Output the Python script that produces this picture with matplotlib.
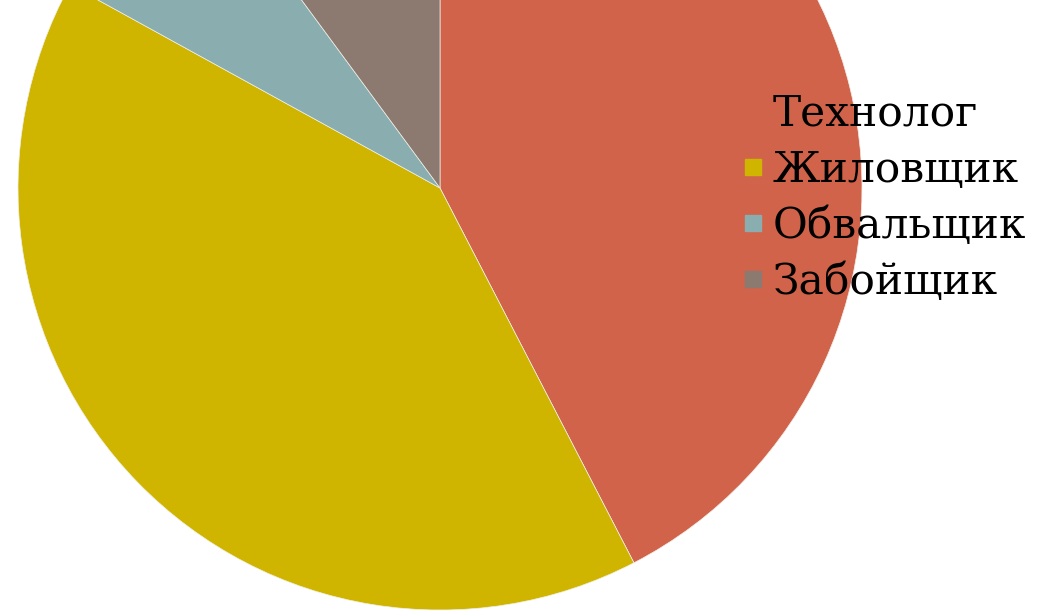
import matplotlib
matplotlib.use("Agg")
import matplotlib.pyplot as plt
from matplotlib.lines import Line2D

categories = ["Технолог", "Жиловщик", "Обвальщик", "Забойщик"]
values = [42.4, 40.6, 6.9, 10.1]
colors = ["#D0634A", "#CFB400", "#8AAEB0", "#8C7A70"]

W, H = 1046, 613
fig = plt.figure(figsize=(W / 100, H / 100), dpi=100)
ax = fig.add_axes([0, 0, 1, 1])
ax.set_xlim(0, W)
ax.set_ylim(0, H)
ax.set_aspect("equal")
ax.axis("off")

ax.pie(values, colors=colors, startangle=90, counterclock=False,
       center=(440, H - 188), radius=422,
       wedgeprops=dict(linewidth=0.5, edgecolor="#f0f0e8"))
ax.set_xlim(0, W)
ax.set_ylim(0, H)

handles = [Line2D([], [], marker="s", linestyle="none", markersize=11,
                  markerfacecolor=c, markeredgecolor=c) for c in colors]
fig.legend(handles, categories, loc="upper left",
           bbox_to_anchor=(745 / W, 1 - 93 / H), frameon=False,
           prop=dict(family="DejaVu Serif", size=30.5),
           handlelength=0.4, handletextpad=0.25, labelspacing=0.33,
           borderpad=0, borderaxespad=0)

fig.savefig("out.png", dpi=100)
